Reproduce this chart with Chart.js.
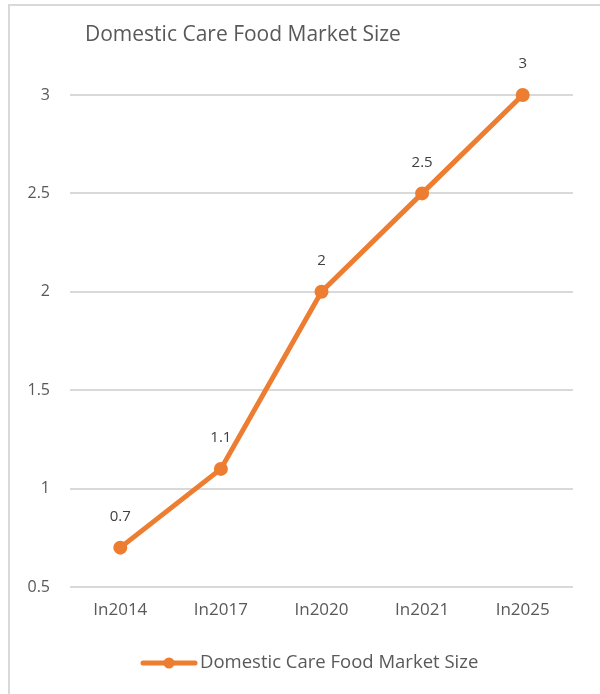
<!DOCTYPE html>
<html><head><meta charset="utf-8">
<script src="https://cdn.jsdelivr.net/npm/chart.js@4/dist/chart.umd.min.js"></script>
<style>
html,body{margin:0;padding:0;background:#fff;}
#wrap{position:relative;width:600px;height:694px;}
#frame{position:absolute;left:8px;top:4px;width:600px;height:700px;border:2px solid #d9d9d9;box-sizing:border-box;}
canvas{position:absolute;left:0;top:0;}
</style></head>
<body>
<div id="wrap"><div id="frame"></div><canvas id="c" width="600" height="694"></canvas></div>
<script>
const title = "Domestic Care Food Market Size";
const categories = ["In2014","In2017","In2020","In2021","In2025"];
const seriesName = "Domestic Care Food Market Size";
const values = [0.7, 1.1, 2, 2.5, 3];
const yTicks = [0.5, 1, 1.5, 2, 2.5, 3];

const FONT = "'Open Sans', 'Noto Sans', sans-serif";
const ORANGE = "#ED7D31";

const overlay = {
  id: 'overlay',
  afterDatasetsDraw(chart) {
    const ctx = chart.ctx;
    const meta = chart.getDatasetMeta(0);
    ctx.save();
    ctx.fillStyle = "#404040";
    ctx.font = "15px " + FONT;
    ctx.textAlign = "center";
    ctx.textBaseline = "middle";
    meta.data.forEach((pt, i) => {
      ctx.fillText(String(values[i]), pt.x, pt.y - 31);
    });
    // title
    ctx.fillStyle = "#595959";
    ctx.font = "21px " + FONT;
    ctx.textAlign = "left";
    ctx.fillText(title, 85, 35);
    // legend
    const ly = 663;
    ctx.strokeStyle = ORANGE;
    ctx.lineWidth = 5;
    ctx.lineCap = "round";
    ctx.beginPath(); ctx.moveTo(143, ly); ctx.lineTo(195, ly); ctx.stroke();
    ctx.fillStyle = ORANGE;
    ctx.beginPath(); ctx.arc(169, ly, 5.5, 0, Math.PI*2); ctx.fill();
    ctx.fillStyle = "#595959";
    ctx.font = "18.5px " + FONT;
    ctx.fillText(seriesName, 200, ly);
    ctx.restore();
  }
};

new Chart(document.getElementById('c'), {
  type: 'line',
  data: {
    labels: categories,
    datasets: [{
      label: seriesName,
      data: values,
      borderColor: ORANGE,
      backgroundColor: ORANGE,
      borderWidth: 5,
      pointRadius: 6,
      pointBorderWidth: 2,
      pointBackgroundColor: ORANGE,
      pointBorderColor: ORANGE,
      tension: 0,
      clip: false
    }]
  },
  options: {
    responsive: false,
    animation: false,
    devicePixelRatio: 1,
    layout: { padding: { left: 20, right: 27, top: 95, bottom: 67 } },
    plugins: { legend: { display: false }, title: { display: false }, tooltip: { enabled: false } },
    scales: {
      x: {
        type: 'category',
        offset: true,
        grid: { display: false, drawTicks: false },
        border: { display: false },
        ticks: { color: "#595959", font: { family: FONT, size: 17 }, padding: 13, maxRotation: 0 },
        afterFit(s) { s.height = 40; }
      },
      y: {
        min: 0.5, max: 3,
        grid: { color: "#d9d9d9", lineWidth: 2, drawTicks: false },
        border: { display: false },
        afterBuildTicks(s) { s.ticks = yTicks.map(v => ({ value: v })); },
        ticks: { color: "#595959", font: { family: FONT, size: 16 }, padding: 20,
                 callback: (v) => String(v) },
        afterFit(s) { s.width = 50; }
      }
    }
  },
  plugins: [overlay]
});
</script>
</body></html>
